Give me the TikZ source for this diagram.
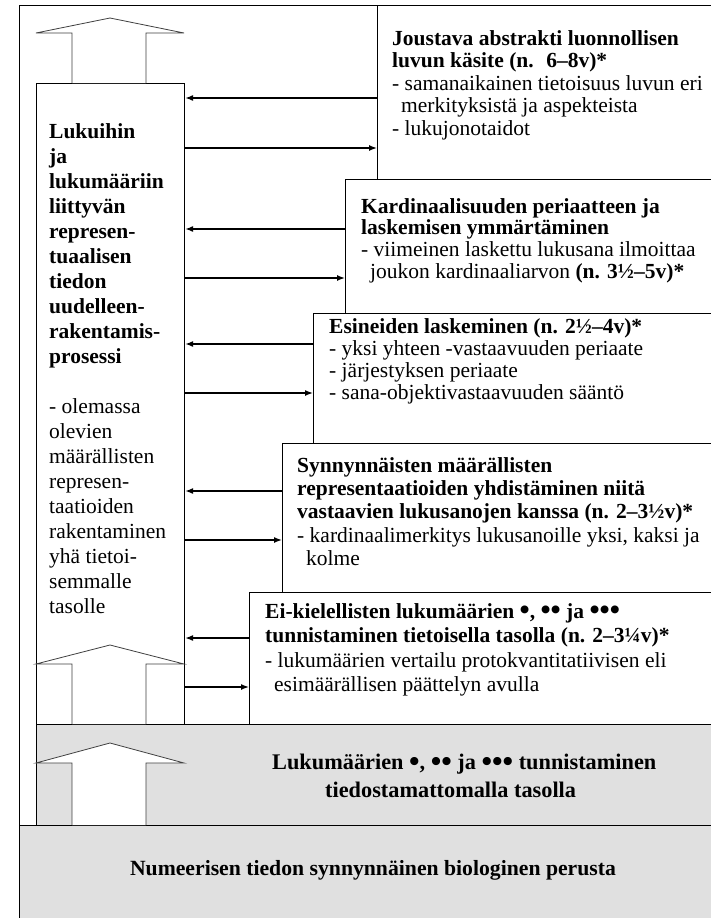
\documentclass[tikz,border=0pt]{standalone}
\usepackage{fontspec}
\setmainfont{Liberation Serif}
\usetikzlibrary{arrows.meta,positioning}

\newcommand{\blt}{\raisebox{-0.06em}{\scalebox{1.35}{•}}}

\tikzset{
  box/.style={draw, line width=1.1pt, fill=white, anchor=north west, inner sep=0pt},
  band/.style={box, fill=black!12},
  txt/.style={anchor=north west, inner sep=0pt, align=left, font=\fontsize{21.5}{#1}\selectfont},
  txt/.default=22.5,
  link/.style={line width=1.4pt, -{Latex[length=8pt,width=6pt]}},
  bigarrow/.style={draw=black!75, line width=0.8pt, fill=white}
}

\begin{document}
\begin{tikzpicture}[x=1pt,y=-1pt]
    \useasboundingbox (0,0) rectangle (711,918);
    \clip (0,0) rectangle (711,918);

    % outer frame and the stair of boxes
    \node (frame) [box, minimum width=720, minimum height=940] at (19,5) {};
    \node (jou) [box, minimum width=360, minimum height=174] at (377,5) {};
    \node (kar) [box, minimum width=400, minimum height=134] at (345,179) {};
    \node (esi) [box, minimum width=420, minimum height=130] at (313,313) {};
    \node (syn) [box, minimum width=450, minimum height=149] at (282,443) {};
    \node (eik) [box, minimum width=480, minimum height=132] at (249,592) {};
    \node (proc) [box, minimum width=148, minimum height=641] at (36,83) {};
    \node (tied) [band, minimum width=700, minimum height=101] at (36,724) {};
    \node (bio) [band, minimum width=720, minimum height=120] at (19,825) {};

    % hollow up arrows
    \foreach \tipy/\basey/\boty in {18/33/83, 645/664/724, 743/763/825}
        \draw[bigarrow] (72,\boty) -- (72,\basey) -- (36,\basey) -- (110,\tipy)
            -- (184,\basey) -- (146,\basey) -- (146,\boty);

    % arrows back and forth
    \foreach \b/\ya/\yb in {jou/98/148, kar/229/278, esi/344/393, syn/491/540, eik/638/687} {
        \draw[link] (\b.west |- 0,\ya) -- (proc.east |- 0,\ya);
        \draw[link] (proc.east |- 0,\yb) -- (\b.west |- 0,\yb);
    }

    \node (proctxt) [txt=25] at (49,123) {\textbf{Lukuihin}\\\textbf{ja}\\\textbf{lukumääriin}\\\textbf{liittyvän}\\\textbf{represen-}\\\textbf{tuaalisen}\\\textbf{tiedon}\\\textbf{uudelleen-}\\\textbf{rakentamis-}\\\textbf{prosessi}\\[25pt]- olemassa\\olevien\\määrällisten\\represen-\\taatioiden\\rakentaminen\\yhä tietoi-\\semmalle\\tasolle};

    \node (joutxt) [txt=22.5] at (392,30) {\textbf{Joustava abstrakti luonnollisen}\\\textbf{luvun käsite (n.~ 6–8v)*}\\- samanaikainen tietoisuus luvun eri\\\hspace{9pt}merkityksistä ja aspekteista\\- lukujonotaidot};
    \node (kartxt) [txt=21.8] at (361,198) {\textbf{Kardinaalisuuden periaatteen ja}\\\textbf{laskemisen ymmärtäminen}\\- viimeinen laskettu lukusana ilmoittaa\\\hspace{9pt}joukon kardinaaliarvon \textbf{(n. 3½–5v)*}};
    \node (esitxt) [txt=22] at (329,318) {\textbf{Esineiden laskeminen (n. 2½–4v)*}\\- yksi yhteen -vastaavuuden periaate\\- järjestyksen periaate\\- sana-objektivastaavuuden sääntö};
    \node (syntxt) [txt=23.3] at (297,457) {\textbf{Synnynnäisten määrällisten}\\\textbf{representaatioiden yhdistäminen niitä}\\\textbf{vastaavien lukusanojen kanssa (n. 2–3½v)*}\\- kardinaalimerkitys lukusanoille yksi, kaksi ja\\\hspace{9pt}kolme};
    \node (eiktxt) [txt=24.5] at (265,603) {\textbf{Ei-kielellisten lukumäärien \blt, \blt\blt{} ja \blt\blt\blt}\\\textbf{tunnistaminen tietoisella tasolla (n. 2–3¼v)*}\\- lukumäärien vertailu protokvantitatiivisen eli\\\hspace{9pt}esimäärällisen päättelyn avulla};

    \node (tiedtxt) [anchor=north west, align=left, inner sep=0pt, font=\fontsize{22.3}{28}\selectfont\bfseries] at (272,754) {Lukumäärien \blt, \blt\blt{} ja \blt\blt\blt{} tunnistaminen\\\hspace*{53pt}tiedostamattomalla tasolla};
    \node (biotxt) [inner sep=0pt, font=\fontsize{21.7}{26}\selectfont\bfseries] at (373,870) {Numeerisen tiedon synnynnäinen biologinen perusta};
\end{tikzpicture}
\end{document}
